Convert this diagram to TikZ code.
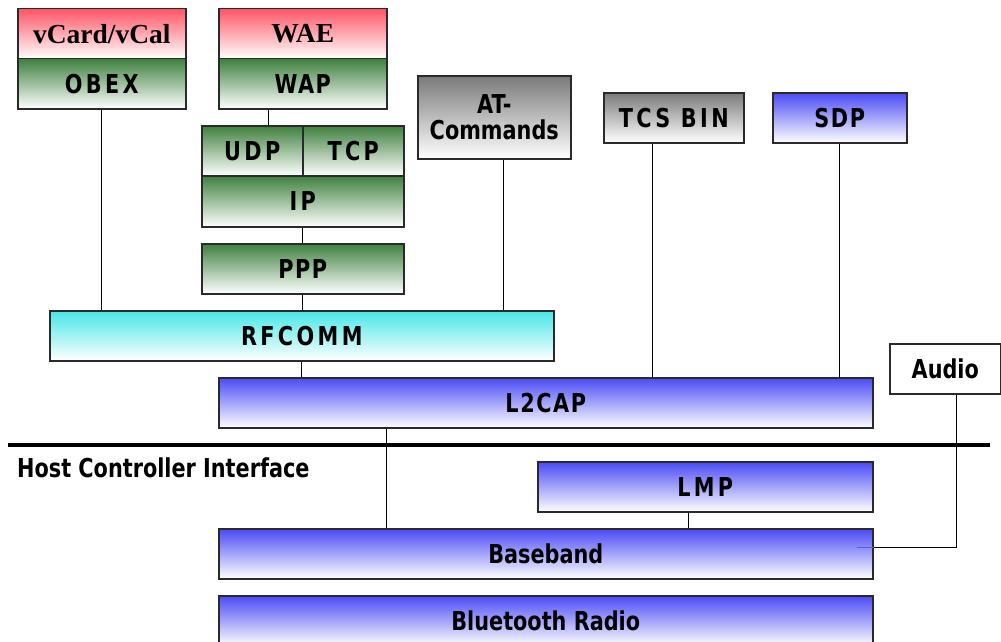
\documentclass[tikz,border=0pt]{standalone}
\usepackage{fontspec}
\setmainfont{Liberation Serif}
\newfontfamily\lbl[FakeStretch=0.8]{DejaVu Sans}
\newfontfamily\lblm[FakeStretch=0.8,LetterSpace=6]{DejaVu Sans}
\newfontfamily\lblw[FakeStretch=0.8,LetterSpace=13]{DejaVu Sans}
\usetikzlibrary{calc}
\definecolor{redtop}{HTML}{FF5566}
\definecolor{greentop}{HTML}{3E803E}
\definecolor{graytop}{HTML}{7A7A7A}
\definecolor{bluetop}{HTML}{4A4AF6}
\definecolor{cyantop}{HTML}{48E6E6}
\definecolor{edge}{HTML}{2A2A2A}
\tikzset{
  layer/.style={draw=edge, line width=1.5pt, inner sep=0pt, anchor=north west,
    font=\lbl\bfseries\fontsize{26}{29}\selectfont},
  medium/.style={font=\lblm\bfseries\fontsize{26}{29}\selectfont},
  wide/.style={font=\lblw\bfseries\fontsize{26}{29}\selectfont},
  serif/.style={font=\bfseries\fontsize{27.5}{30}\selectfont},
  redfill/.style={top color=redtop, bottom color=white},
  greenfill/.style={top color=greentop, bottom color=white},
  grayfill/.style={top color=graytop, bottom color=white},
  bluefill/.style={top color=bluetop, bottom color=white},
  cyanfill/.style={top color=cyantop, bottom color=white},
  link/.style={draw=black, line width=1.2pt},
}
\begin{document}
\begin{tikzpicture}[x=1pt, y=-1pt]
\useasboundingbox (0,0) rectangle (1001,642);

% upper protocol stack
\node[layer, serif, redfill, minimum width=168pt, minimum height=50pt] (vcard) at (17,8) {vCard/vCal};
\node[layer, wide, greenfill, minimum width=168pt, minimum height=50pt] (obex) at (17,58) {OBEX};
\node[layer, serif, redfill, minimum width=168pt, minimum height=50pt] (wae) at (218,8) {WAE};
\node[layer, medium, greenfill, minimum width=168pt, minimum height=50pt] (wap) at (218,58) {WAP};
\node[layer, wide, greenfill, minimum width=101pt, minimum height=50pt] (udp) at (201,125) {UDP};
\node[layer, wide, greenfill, minimum width=101pt, minimum height=50pt] (tcp) at (302,125) {TCP};
\node[layer, wide, greenfill, minimum width=202pt, minimum height=51pt] (ip) at (201,175) {IP};
\node[layer, medium, greenfill, minimum width=202pt, minimum height=50pt] (ppp) at (201,243) {PPP};
\node[layer, grayfill, minimum width=153pt, minimum height=83pt, align=center] (at) at (417,75) {AT-\\[-3pt]Commands};
\node[layer, wide, grayfill, minimum width=140pt, minimum height=50pt] (tcs) at (603,92) {TCS BIN};
\node[layer, medium, bluefill, minimum width=134pt, minimum height=50pt] (sdp) at (772,92) {SDP};
\node[layer, wide, cyanfill, minimum width=504pt, minimum height=50pt] (rfcomm) at (49,310) {RFCOMM};
\node[layer, medium, bluefill, minimum width=654pt, minimum height=50pt] (l2cap) at (218,377) {L2CAP};
\node[layer, fill=white, minimum width=111pt, minimum height=50pt] (audio) at (889,343) {Audio};

% host controller interface
\coordinate (hciL) at (8,445);
\coordinate (hciR) at (990,445);
\draw[line width=4pt] (hciL) -- (hciR);
\node[anchor=west, inner sep=0pt, font=\lbl\bfseries\fontsize{26}{29}\selectfont] (hci) at (17,468) {Host Controller Interface};

% lower layers
\node[layer, wide, bluefill, minimum width=335pt, minimum height=50pt] (lmp) at (537,461) {LMP};
\node[layer, bluefill, minimum width=654pt, minimum height=50pt] (baseband) at (218,528) {Baseband};
\node[layer, bluefill, minimum width=654pt, minimum height=50pt] (radio) at (218,595) {Bluetooth Radio};

% connections between layers
\draw[link] (obex.south) -- (obex.south |- rfcomm.north);
\coordinate (wapport) at ($(wap.south west)!0.3!(wap.south east)$);
\draw[link] (wapport) -- (wapport |- udp.north);
\draw[link] (ip.south) -- (ppp.north);
\draw[link] (ppp.south) -- (ppp.south |- rfcomm.north);
\coordinate (atport) at ($(at.south west)!0.56!(at.south east)$);
\draw[link] (atport) -- (atport |- rfcomm.north);
\coordinate (tcsport) at ($(tcs.south west)!0.35!(tcs.south east)$);
\draw[link] (tcsport) -- (tcsport |- l2cap.north);
\draw[link] (sdp.south) -- (sdp.south |- l2cap.north);
\draw[link] (rfcomm.south) -- (rfcomm.south |- l2cap.north);
\coordinate (l2port) at ($(l2cap.south west)!0.257!(l2cap.south east)$);
\draw[link] (l2port) -- (l2port |- baseband.north);
\coordinate (lmpport) at ($(lmp.south west)!0.45!(lmp.south east)$);
\draw[link] (lmpport) -- (lmpport |- baseband.north);
\coordinate (audioport) at ($(audio.south west)!0.6!(audio.south east)$);
\coordinate (bbport) at ($(baseband.north east)!0.38!(baseband.south east)$);
\draw[link] (audioport) |- (bbport);
\draw[draw=bluetop!60!gray, line width=1.2pt] (bbport) -- ++(-17,0);
\end{tikzpicture}
\end{document}
